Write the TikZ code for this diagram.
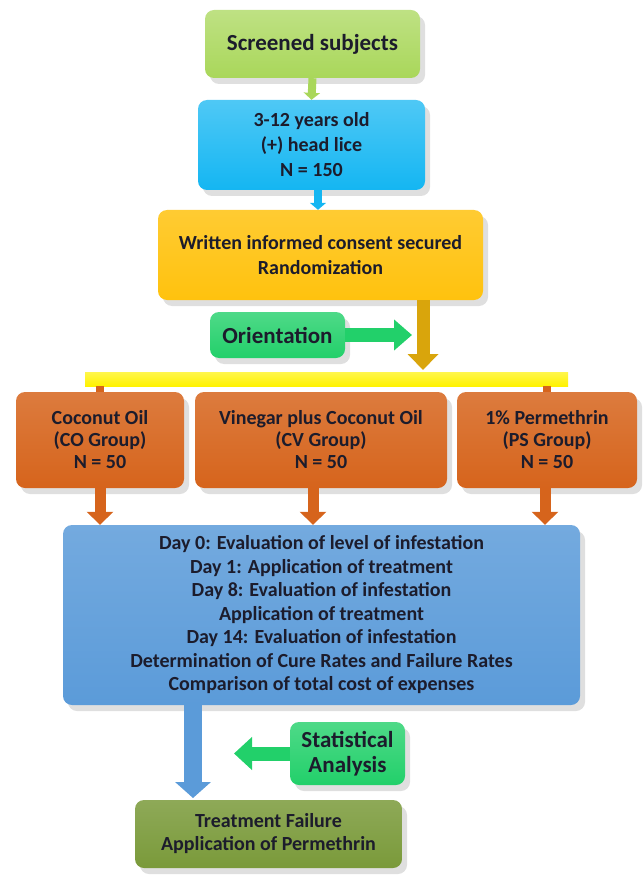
\documentclass[tikz,border=0pt]{standalone}
\usepackage{fontspec}
\setmainfont{Carlito}
\usetikzlibrary{arrows.meta,shadows}

\definecolor{screengreen}{HTML}{A9D75A}
\definecolor{agecyan}{HTML}{14B6F2}
\definecolor{consentgold}{HTML}{FFC20E}
\definecolor{orientgreen}{HTML}{22D06A}
\definecolor{baryellow}{HTML}{FFF200}
\definecolor{grouporange}{HTML}{D6641C}
\definecolor{daysblue}{HTML}{5B9BD9}
\definecolor{failgreen}{HTML}{7A9A3A}
\definecolor{textdark}{HTML}{1C1C2C}

\begin{document}
\begin{tikzpicture}[x=1pt,y=-1pt]

\tikzstyle{box}=[rectangle,rounded corners=9pt,align=center,text=textdark,
  font=\bfseries\fontsize{20}{25}\selectfont,
  drop shadow={shadow xshift=5pt,shadow yshift=-6pt,opacity=0.25}]
\tikzstyle{flow}=[line width=11pt,-{Triangle[width=26pt,length=13pt]}]

\useasboundingbox (0,0) rectangle (644,877);

\draw (312.5,44) node [box,top color=screengreen!75!white,bottom color=screengreen,
  minimum width=215pt,minimum height=68pt,
  font=\bfseries\fontsize{23}{26}\selectfont] (screen) {Screened subjects} ;
\draw (311.5,145) node [box,top color=agecyan!75!white,bottom color=agecyan,
  minimum width=227pt,minimum height=90pt] (age)
  {3-12 years old\\(+) head lice\\N = 150} ;
\draw (320.5,255) node [box,top color=consentgold!85!white,bottom color=consentgold,
  minimum width=325pt,minimum height=90pt] (consent)
  {Written informed consent secured\\Randomization} ;
\draw (277.5,335) node [box,top color=orientgreen!80!white,bottom color=orientgreen,
  minimum width=135pt,minimum height=46pt,
  font=\bfseries\fontsize{23}{26}\selectfont] (orient) {Orientation} ;
\draw (326.5,379) node [rectangle,top color=baryellow!70!white,bottom color=baryellow,
  minimum width=483pt,minimum height=14pt,inner sep=0pt] (bar) {} ;

\draw (100,440) node [box,top color=grouporange!85!white,bottom color=grouporange,
  minimum width=168pt,minimum height=96pt,
  font=\bfseries\fontsize{20}{22}\selectfont] (co)
  {Coconut Oil\\(CO Group)\\N = 50} ;
\draw (321,440) node [box,top color=grouporange!85!white,bottom color=grouporange,
  minimum width=252pt,minimum height=96pt,
  font=\bfseries\fontsize{20}{22}\selectfont] (cv)
  {Vinegar plus Coconut Oil\\(CV Group)\\N = 50} ;
\draw (547,440) node [box,top color=grouporange!85!white,bottom color=grouporange,
  minimum width=180pt,minimum height=96pt,
  font=\bfseries\fontsize{20}{22}\selectfont] (ps)
  {1\% Permethrin\\(PS Group)\\N = 50} ;

\draw (321.5,615) node [box,top color=daysblue!85!white,bottom color=daysblue,
  minimum width=517pt,minimum height=180pt,
  font=\bfseries\fontsize{20}{23.5}\selectfont] (days)
  {Day 0: Evaluation of level of infestation\\
   Day 1: Application of treatment\\
   Day 8: Evaluation of infestation\\
   Application of treatment\\
   Day 14: Evaluation of infestation\\
   Determination of Cure Rates and Failure Rates\\
   Comparison of total cost of expenses} ;
\draw (347.5,753.5) node [box,top color=orientgreen!80!white,bottom color=orientgreen,
  minimum width=115pt,minimum height=63pt,
  font=\bfseries\fontsize{23}{25}\selectfont] (stat) {Statistical\\Analysis} ;
\draw (268.5,834) node [box,top color=failgreen!85!white,bottom color=failgreen,
  minimum width=267pt,minimum height=68pt,
  font=\bfseries\fontsize{20}{23}\selectfont] (fail)
  {Treatment Failure\\Application of Permethrin} ;

\coordinate (split) at (423,370) ;
\coordinate (orientend) at (412,335) ;
\coordinate (down) at (193,798) ;
\coordinate (statend) at (234,753.5) ;

% connectors
\draw [flow,screengreen,line width=8pt,-{Triangle[width=16pt,length=7pt]}] (screen.south) -- (age.north) ;
\draw [flow,agecyan,line width=8pt,-{Triangle[width=16pt,length=7pt]}] (age.south -| 318,0) -- (consent.north -| 318,0) ;
\draw [flow,consentgold!85!black,line width=13pt,-{Triangle[width=30pt,length=16pt]}] (consent.south -| split) -- (split) ;
\draw [flow,orientgreen,line width=14pt,-{Triangle[width=30pt,length=18pt]}] (orient.east) -- (orientend) ;
\draw [grouporange,line width=8pt] (bar.south -| co) -- (co.north) ;
\draw [grouporange,line width=8pt] (bar.south -| ps) -- (ps.north) ;
\draw [flow,grouporange] (co.south) -- (co.south |- days.north) ;
\draw [flow,grouporange] (cv.south -| 313,0) -- (days.north -| 313,0) ;
\draw [flow,grouporange] (ps.south -| 545,0) -- (days.north -| 545,0) ;
\draw [flow,daysblue,line width=18pt,-{Triangle[width=35pt,length=16pt]}] (days.south -| down) -- (down) ;
\draw [flow,orientgreen,line width=14pt,-{Triangle[width=32pt,length=18pt]}] (stat.west) -- (statend) ;

\end{tikzpicture}
\end{document}
